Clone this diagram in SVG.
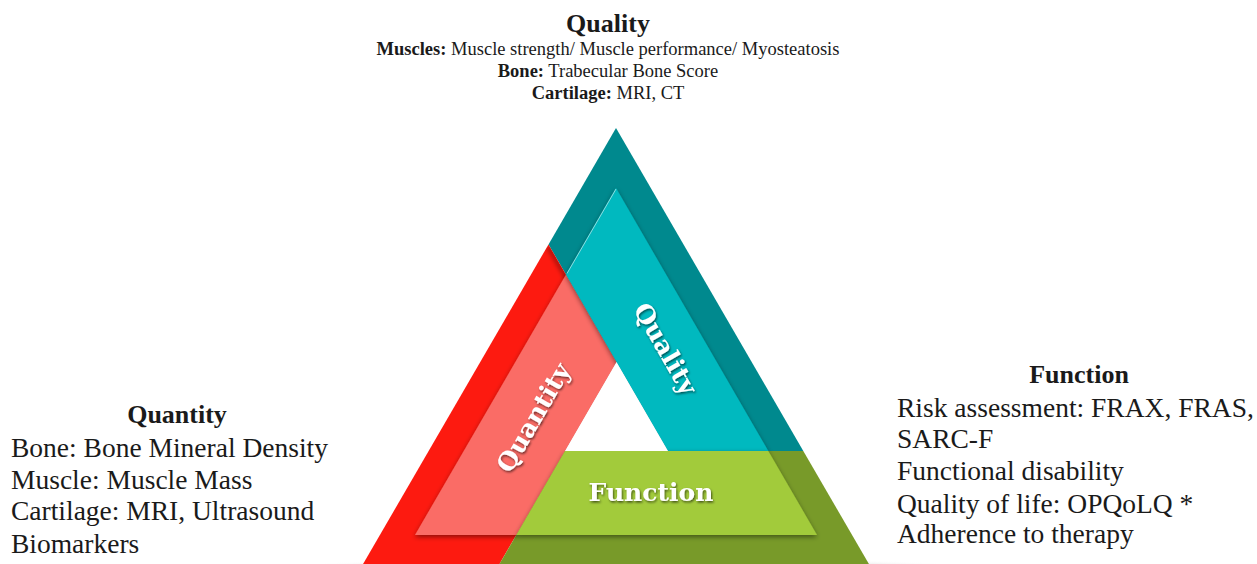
<svg xmlns="http://www.w3.org/2000/svg" width="1257" height="564" viewBox="0 0 1257 564">
  <style>
    .head { font-family: "Liberation Serif", "Times New Roman", serif; font-weight: bold; font-size: 26px; fill: #1a1a1a; }
    .top { font-family: "Liberation Serif", "Times New Roman", serif; font-size: 18.5px; fill: #1a1a1a; }
    .side { font-family: "Liberation Serif", "Times New Roman", serif; font-size: 27.5px; fill: #1a1a1a; }
    .band-label { font-family: "DejaVu Serif", "Liberation Serif", serif; font-weight: bold; font-size: 25px; fill: #ffffff; }
    .dark-teal { fill: #00898e; }
    .light-teal { fill: #00b9bf; }
    .dark-red { fill: #fd1a10; }
    .light-red { fill: #fa6c66; }
    .dark-olive { fill: #789a29; }
    .light-green { fill: #a2cb3a; }
  </style>
  <defs>
    <filter id="bandShadow" x="-10%" y="-10%" width="120%" height="120%">
      <feDropShadow dx="0" dy="2" stdDeviation="2.5" flood-color="#000" flood-opacity="0.45"/>
    </filter>
    <filter id="txtShadow" x="-10%" y="-20%" width="120%" height="140%">
      <feDropShadow dx="1" dy="1.5" stdDeviation="0.8" flood-color="#000" flood-opacity="0.6"/>
    </filter>
    <filter id="soft" x="-20%" y="-20%" width="140%" height="140%">
      <feGaussianBlur stdDeviation="2"/>
    </filter>
    <radialGradient id="floor" cx="0.5" cy="0.5" r="0.5">
      <stop offset="0" stop-color="#707070" stop-opacity="0.8"/>
      <stop offset="0.6" stop-color="#9a9a9a" stop-opacity="0.55"/>
      <stop offset="1" stop-color="#ffffff" stop-opacity="0"/>
    </radialGradient>
    <clipPath id="redClip">
      <polygon points="548.5,244.4 616.5,362 496,570 359.6,570"/>
    </clipPath>
  </defs>

  <rect width="1257" height="564" fill="#ffffff"/>

  <!-- floor shadow under the triangle -->
  <ellipse cx="630" cy="570" rx="370" ry="13" fill="url(#floor)"/>

  <!-- outer frame, split into three coloured bands -->
  <g id="frame">
    <polygon class="dark-teal" points="616,128 803.3,451 668,451 548.5,244.4"/>
    <polygon class="dark-red" points="548.5,244.4 616.5,362 496,570 359.6,570"/>
    <polygon class="dark-olive" points="496,570 565,451 803.3,451 872.4,570"/>
    <!-- teal band casts a shadow on the red one -->
    <line x1="548.5" y1="247" x2="620" y2="370" stroke="#000" stroke-opacity="0.35" stroke-width="4" filter="url(#soft)" clip-path="url(#redClip)"/>
  </g>

  <!-- inner bands -->
  <g id="band-quantity" filter="url(#bandShadow)">
    <polygon class="light-red" points="566,274.6 616.5,362 516.3,535 415,535"/>
  </g>
  <g id="band-quality" filter="url(#bandShadow)">
    <polygon class="light-teal" points="616,188 768.3,451 668,451 566,274.6"/>
  </g>
  <line x1="616" y1="189" x2="567" y2="273.5" stroke="#ffffff" stroke-opacity="0.55" stroke-width="1"/>
  <g id="band-function" filter="url(#bandShadow)">
    <polygon class="light-green" points="565,451 768.3,451 817,535 516.3,535"/>
  </g>

  <!-- open centre -->
  <polygon points="616.5,362 565,451 668,451" fill="#ffffff"/>

  <!-- band labels -->
  <g id="label-quality" filter="url(#txtShadow)">
    <text class="band-label" transform="translate(665,349) rotate(60)" text-anchor="middle" y="8">Quality</text>
  </g>
  <g id="label-quantity" filter="url(#txtShadow)">
    <text class="band-label" transform="translate(534,418) rotate(-60)" text-anchor="middle" y="8">Quantity</text>
  </g>
  <g id="label-function" filter="url(#txtShadow)">
    <text class="band-label" x="651" y="501" text-anchor="middle">Function</text>
  </g>

  <!-- quality description -->
  <g id="text-quality">
    <text class="head" x="608" y="32" text-anchor="middle">Quality</text>
    <text class="top" x="608" y="55" text-anchor="middle"><tspan font-weight="bold">Muscles:</tspan> Muscle strength/ Muscle performance/ Myosteatosis</text>
    <text class="top" x="608" y="77" text-anchor="middle"><tspan font-weight="bold">Bone:</tspan> Trabecular Bone Score</text>
    <text class="top" x="608" y="99" text-anchor="middle"><tspan font-weight="bold">Cartilage:</tspan> MRI, CT</text>
  </g>

  <!-- quantity description -->
  <g id="text-quantity">
    <text class="head" x="177" y="423" text-anchor="middle">Quantity</text>
    <text class="side" x="11" y="457">Bone: Bone Mineral Density</text>
    <text class="side" x="11" y="489">Muscle: Muscle Mass</text>
    <text class="side" x="11" y="520">Cartilage: MRI, Ultrasound</text>
    <text class="side" x="11" y="553">Biomarkers</text>
  </g>

  <!-- function description -->
  <g id="text-function">
    <text class="head" x="1079" y="383" text-anchor="middle">Function</text>
    <text class="side" x="897" y="417">Risk assessment: FRAX, FRAS,</text>
    <text class="side" x="897" y="448">SARC-F</text>
    <text class="side" x="897" y="480">Functional disability</text>
    <text class="side" x="897" y="513">Quality of life: OPQoLQ *</text>
    <text class="side" x="897" y="543">Adherence to therapy</text>
  </g>
</svg>
